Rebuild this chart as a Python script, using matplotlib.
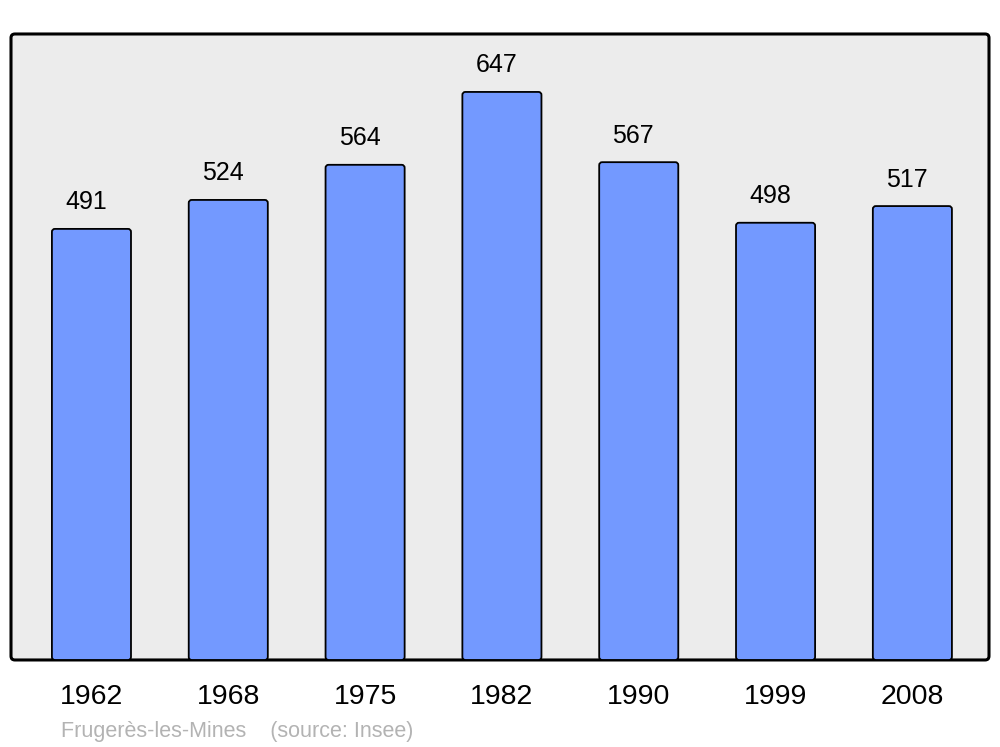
import matplotlib.pyplot as plt
from matplotlib.patches import FancyBboxPatch

plt.rcParams['font.family'] = ['Liberation Sans', 'DejaVu Sans']

years = ['1962', '1968', '1975', '1982', '1990', '1999', '2008']
population = [491, 524, 564, 647, 567, 498, 517]
footer = 'Frugerès-les-Mines    (source: Insee)'

fig = plt.figure(figsize=(10, 7.47), dpi=100)
ax = fig.add_axes([0.011, 0.1165, 0.978, 0.838])

xmin, xmax = -0.588, 6.56
ymax = 713
ax.set_xlim(xmin, xmax)
ax.set_ylim(0, ymax)

# frame with rounded corners
ax.patch.set_visible(False)
for s in ax.spines.values():
    s.set_visible(False)
frame = FancyBboxPatch((0, 0), 1, 1, boxstyle='round,pad=0,rounding_size=0.004',
                       mutation_aspect=978 / 626, transform=ax.transAxes,
                       facecolor='#ececec', edgecolor='black', linewidth=2.2,
                       zorder=0, clip_on=False)
ax.add_patch(frame)

# bars, rounded corners
px_x = 978 / (xmax - xmin)
px_y = 626 / ymax
bars = ax.bar(range(len(years)), population, width=0.578)
for b in bars:
    b.set_visible(False)
    x, y = b.get_x(), b.get_y()
    w, h = b.get_width(), b.get_height()
    p = FancyBboxPatch((x, y), w, h, boxstyle='round,pad=0,rounding_size=0.022',
                       mutation_aspect=px_x / px_y, facecolor='#7399ff',
                       edgecolor='black', linewidth=1.3, zorder=2)
    ax.add_patch(p)

for i, v in enumerate(population):
    ax.annotate(str(v), (i, v), xytext=(-4, 14), textcoords='offset points',
                ha='center', va='baseline', fontsize=18)

ax.set_xticks(range(len(years)))
ax.set_xticklabels(years, fontsize=20.5)
for lab in ax.get_xticklabels():
    lab.set_x(lab.get_position()[0])
ax.tick_params(axis='x', length=0, pad=17)
ax.set_yticks([])

fig.text(0.061, 0.013, footer, fontsize=15.5, color='#b3b3b3',
         ha='left', va='baseline', transform=fig.transFigure)

fig.savefig('out.png', dpi=100)
